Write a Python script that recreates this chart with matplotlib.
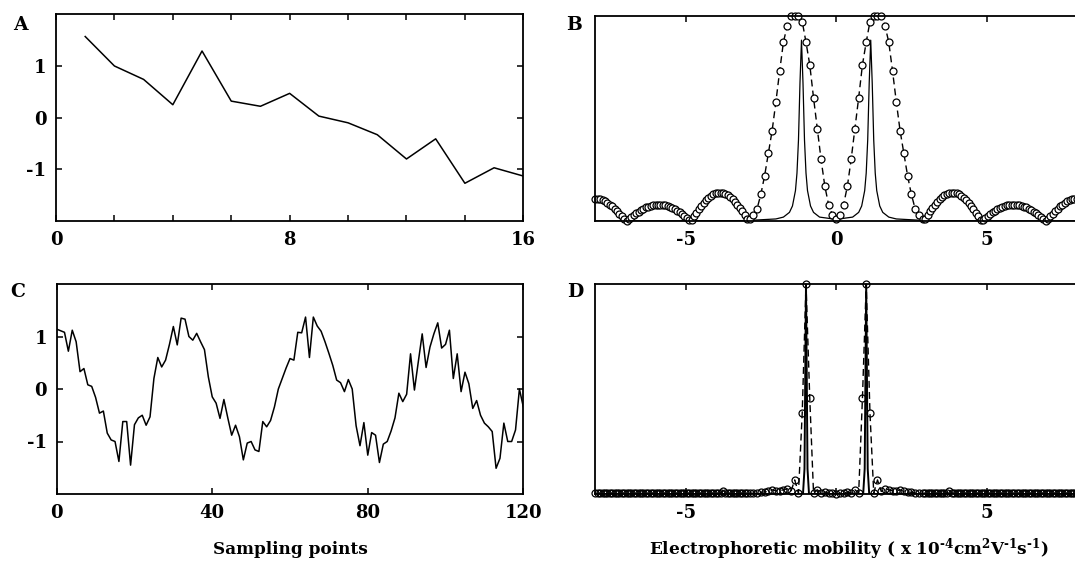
import numpy as np
import matplotlib
matplotlib.use("Agg")
import matplotlib.pyplot as plt

plt.rcParams['font.family'] = ['DejaVu Serif']
plt.rcParams['font.weight'] = 'bold'
plt.rcParams['axes.unicode_minus'] = False
plt.rcParams['mathtext.fontset'] = 'dejavuserif'

# ---------------- data ----------------
# Panel A: 16-point signal
a_x = list(range(1, 17))
a_y = [1.57, 1.00, 0.74, 0.25, 1.29, 0.32, 0.22, 0.47, 0.03, -0.10,
       -0.33, -0.80, -0.41, -1.27, -0.97, -1.13]

# Panel C: 121-point signal
c_y = [1.14, 1.11, 1.08, 0.72, 1.12, 0.90, 0.33, 0.39, 0.08, 0.05,
       -0.16, -0.46, -0.42, -0.84, -0.97, -1.00, -1.38, -0.62, -0.62, -1.45,
       -0.68, -0.55, -0.50, -0.69, -0.53, 0.20, 0.60, 0.42, 0.55, 0.85,
       1.19, 0.84, 1.35, 1.33, 1.00, 0.93, 1.06, 0.90, 0.75, 0.23,
       -0.15, -0.27, -0.56, -0.20, -0.55, -0.88, -0.69, -0.91, -1.35, -1.03,
       -1.00, -1.16, -1.19, -0.62, -0.72, -0.60, -0.34, 0.00, 0.20, 0.40,
       0.58, 0.55, 1.08, 1.07, 1.37, 0.60, 1.37, 1.20, 1.10, 0.90,
       0.68, 0.45, 0.17, 0.12, -0.05, 0.18, 0.00, -0.70, -1.08, -0.64,
       -1.26, -0.83, -0.88, -1.40, -1.05, -1.00, -0.80, -0.55, -0.08, -0.24,
       -0.10, 0.67, -0.02, 0.52, 1.05, 0.41, 0.80, 1.05, 1.26, 0.78,
       0.85, 1.12, 0.20, 0.67, -0.05, 0.32, 0.10, -0.37, -0.22, -0.50,
       -0.65, -0.72, -0.81, -1.51, -1.32, -0.65, -1.00, -1.00, -0.78, 0.00,
       -0.34]
c_x = list(range(len(c_y)))

# Mobility sampling of the spectra: dense in the side lobes, coarser in the main lobes
mob_left = -8.0 + 0.08 * np.arange(64)        # -8.00 .. -2.96
mob_main = -2.875 + 0.125 * np.arange(47)     # -2.875 .. 2.875
mob_right = 2.96 + 0.08 * np.arange(64)       # 2.96 .. 8.00
mob = np.concatenate([mob_left, mob_main, mob_right])

b_dash_left = [0.108, 0.107, 0.105, 0.101, 0.096, 0.089, 0.080, 0.071, 0.060, 0.048,
               0.036, 0.023, 0.010,
               0.002, 0.012, 0.021, 0.030, 0.038, 0.046, 0.053, 0.060, 0.066, 0.070,
               0.074, 0.077, 0.079, 0.080, 0.080, 0.078, 0.076, 0.072, 0.068, 0.063,
               0.057, 0.050, 0.042, 0.034, 0.025, 0.016, 0.007,
               0.005, 0.023, 0.040, 0.057, 0.073, 0.088, 0.101, 0.113, 0.122, 0.129,
               0.135, 0.137, 0.138, 0.136, 0.132, 0.125, 0.116, 0.106, 0.093, 0.079,
               0.063, 0.047, 0.029, 0.011]
b_dash_main = [0.01, 0.03, 0.06, 0.13, 0.22, 0.33, 0.44, 0.58, 0.73, 0.87, 0.95,
               1.0, 1.0, 1.0, 0.97, 0.87, 0.76, 0.60, 0.45, 0.30, 0.17, 0.08, 0.03,
               0.01,
               0.03, 0.08, 0.17, 0.30, 0.45, 0.60, 0.76, 0.87, 0.97, 1.0, 1.0, 1.0,
               0.95, 0.87, 0.73, 0.58, 0.44, 0.33, 0.22, 0.13, 0.06, 0.03, 0.01]
b_dash_right = [0.011, 0.029, 0.047, 0.063, 0.079, 0.093, 0.106, 0.116, 0.125, 0.132,
                0.136, 0.138, 0.137, 0.135, 0.129, 0.122, 0.113, 0.101, 0.088, 0.073,
                0.057, 0.040, 0.023, 0.005,
                0.007, 0.016, 0.025, 0.034, 0.042, 0.050, 0.057, 0.063, 0.068, 0.072,
                0.076, 0.078, 0.080, 0.080, 0.079, 0.077, 0.074, 0.070, 0.066, 0.060,
                0.053, 0.046, 0.038, 0.030, 0.021, 0.012, 0.002,
                0.010, 0.023, 0.036, 0.048, 0.060, 0.071, 0.080, 0.089, 0.096, 0.101,
                0.105, 0.107, 0.108]
b_dash = b_dash_left + b_dash_main + b_dash_right

b_sol_x = [-8, -3, -2, -1.75, -1.55, -1.45, -1.35, -1.3, -1.25, -1.2, -1.15,
           -1.1, -1.05, -1.0, -0.95, -0.85, -0.75, -0.55, -0.15, 0,
           0.15, 0.55, 0.75, 0.85, 0.95, 1.0, 1.05, 1.1, 1.15, 1.2, 1.25,
           1.3, 1.35, 1.45, 1.55, 1.75, 2, 3, 8]
b_sol_y = [0.0, 0.002, 0.010, 0.019, 0.042, 0.073, 0.148, 0.233, 0.394, 0.672,
           0.88, 0.672, 0.394, 0.233, 0.148, 0.073, 0.042, 0.019, 0.011, 0.010,
           0.011, 0.019, 0.042, 0.073, 0.148, 0.233, 0.394, 0.672, 0.88,
           0.672, 0.394, 0.233, 0.148, 0.073, 0.042, 0.019, 0.010, 0.002, 0.0]

d_dash_left = [0.003] * 53 + [0.015] + [0.003] * 10
d_dash_main = [0.003, 0.004, 0.006, 0.008, 0.010, 0.012, 0.020, 0.015, 0.015, 0.020,
               0.025, 0.012, 0.067, 0.005, 0.387, 1.0, 0.456, 0.005, 0.020, 0.005,
               0.010, 0.004, 0.003,
               0.0,
               0.003, 0.004, 0.010, 0.005, 0.020, 0.005, 0.456, 1.0, 0.387, 0.005,
               0.067, 0.012, 0.025, 0.020, 0.015, 0.015, 0.020, 0.012, 0.010, 0.008,
               0.006, 0.004, 0.003]
d_dash_right = [0.003] * 10 + [0.015] + [0.003] * 53
d_dash = d_dash_left + d_dash_main + d_dash_right

d_sol_x = [-8, -1.1, -1.05, -1.0, -0.95, -0.9, 0.9, 0.95, 1.0, 1.05, 1.1, 8]
d_sol_y = [0.0, 0.0, 0.12, 1.0, 0.12, 0.0, 0.0, 0.12, 1.0, 0.12, 0.0, 0.0]

# ---------------- figure ----------------
W, H = 1075, 569
fig = plt.figure(figsize=(W / 100, H / 100), dpi=100)

def ax_px(left, top, right, bottom):
    return fig.add_axes([left / W, 1 - bottom / H, (right - left) / W, (bottom - top) / H])

FS = 13
def style(ax):
    for s in ax.spines.values():
        s.set_linewidth(1.3)
    ax.tick_params(direction='in', length=4, width=1.1, top=True, right=True,
                   labelsize=FS, pad=7)
    for lab in ax.get_xticklabels() + ax.get_yticklabels():
        lab.set_fontweight('bold')

# Panel A
axA = ax_px(56, 14.3, 523.3, 221)
axA.plot(a_x, a_y, color='k', lw=1.1)
axA.set_xlim(0, 16)
axA.set_ylim(-2, 2)
axA.set_xticks(range(0, 17, 2))
axA.set_xticklabels(['0', '', '', '', '8', '', '', '', '16'])
axA.set_yticks([-1, 0, 1])
axA.set_yticklabels(['-1', '0', '1'])
style(axA)

# Panel C
axC = ax_px(56.7, 284, 523.3, 494)
axC.plot(c_x, c_y, color='k', lw=1.1)
axC.set_xlim(0, 120)
axC.set_ylim(-2, 2)
axC.set_xticks([0, 40, 80, 120])
axC.set_yticks([-1, 0, 1])
axC.set_yticklabels(['-1', '0', '1'])
style(axC)

# Panel B
axB = ax_px(595.3, 15.5, 595.3 + 30.1 * 16, 221)
axB.plot(b_sol_x, b_sol_y, color='k', lw=0.9)
axB.plot(mob, b_dash, color='k', lw=1.0, ls=(0, (5, 3)), marker='o', ms=5,
         mfc='white', mec='k', mew=0.9, clip_on=False)
axB.set_xlim(-8, 8)
axB.set_ylim(0, 1)
axB.set_xticks([-5, 0, 5])
axB.set_xticklabels(['-5', '0', '5'])
axB.set_yticks([])
style(axB)

# Panel D
axD = ax_px(595.3, 284, 595.3 + 30.1 * 16, 494)
axD.plot(d_sol_x, d_sol_y, color='k', lw=1.4)
axD.plot(mob, d_dash, color='k', lw=1.0, ls=(0, (5, 3)), marker='o', ms=5,
         mfc='none', mec='k', mew=0.9, clip_on=False)
axD.set_xlim(-8, 8)
axD.set_ylim(0, 1)
axD.set_xticks([-5, 0, 5])
axD.set_xticklabels(['-5', '', '5'])
axD.set_yticks([])
style(axD)

# panel letters
for lbl, (px, py) in {'A': (20, 25), 'B': (574, 25), 'C': (18, 292), 'D': (575, 292)}.items():
    fig.text(px / W, 1 - py / H, lbl, fontsize=FS + 0.5, fontweight='bold',
             ha='center', va='center')

XFS = 12.2
fig.text(290 / W, 1 - 549 / H, 'Sampling points', fontsize=XFS, fontweight='bold',
         ha='center', va='center')
fig.text(849 / W, 1 - 549 / H,
         'Electrophoretic mobility ( x 10$^{\\mathbf{\u20104}}$cm$^{\\mathbf{2}}$'
         'V$^{\\mathbf{\u20101}}$s$^{\\mathbf{\u20101}}$)',
         fontsize=XFS, fontweight='bold', ha='center', va='center')

fig.savefig('out.png', dpi=100)
